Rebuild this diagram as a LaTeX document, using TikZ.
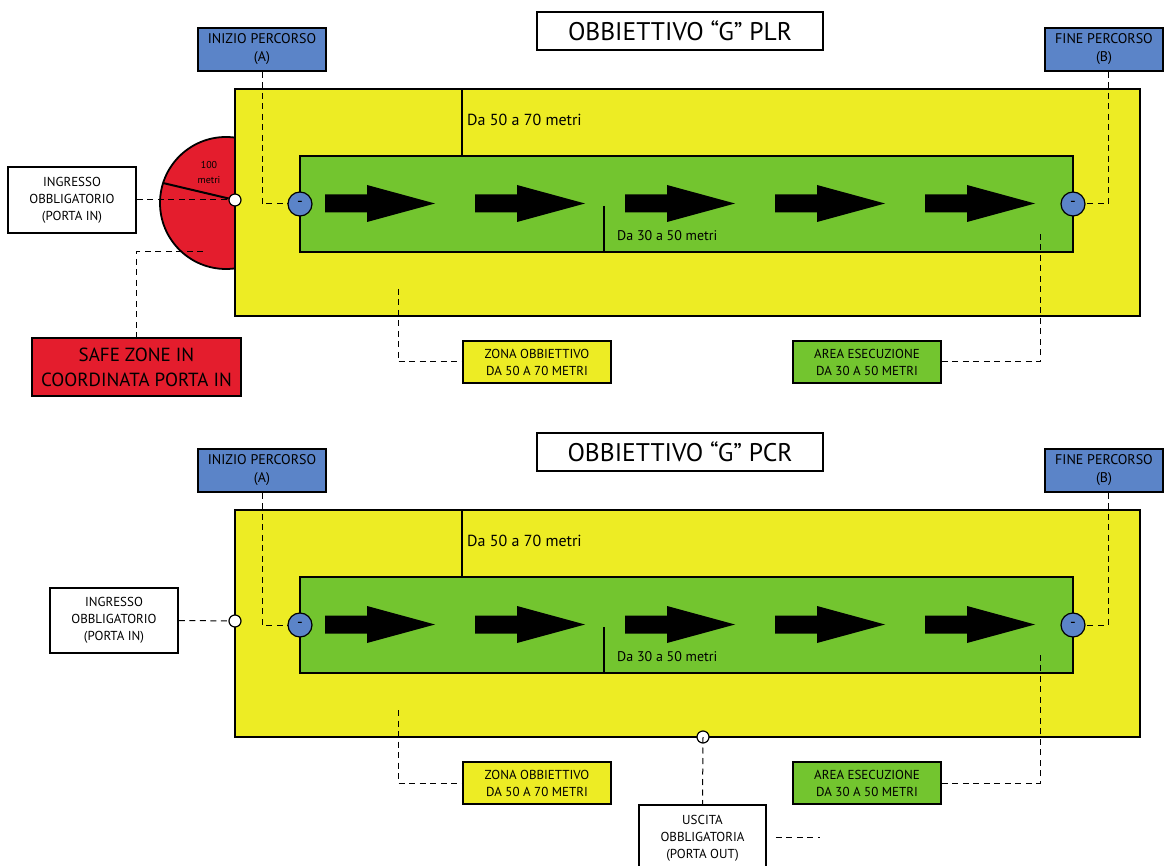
\documentclass[tikz,border=0pt]{standalone}
\usepackage{fontspec}
\setmainfont{PT Sans}
\definecolor{zyel}{RGB}{237,236,36}
\definecolor{zgreen}{RGB}{115,197,47}
\definecolor{zblue}{RGB}{91,132,200}
\definecolor{zred}{RGB}{228,29,45}
\tikzset{
  titlebox/.style={draw, fill=white, line width=1.8pt, minimum width=286pt, minimum height=38pt, inner sep=0pt, font=\fontsize{25.5}{30}\selectfont},
  lbl/.style={draw, line width=1.6pt, align=center, inner sep=0pt, font=\fontsize{13}{17}\selectfont},
  bluebox/.style={lbl, fill=zblue, font=\fontsize{14}{18}\selectfont},
  zone/.style={draw, fill=zyel, line width=1.8pt, inner sep=0pt},
  exarea/.style={draw, fill=zgreen, line width=1.8pt, inner sep=0pt},
  bluedoor/.style={circle, draw, fill=zblue, line width=1.2pt, minimum size=24pt, inner sep=0pt, font=\fontsize{16}{16}\selectfont},
  wdoor/.style={circle, draw, fill=white, line width=1.2pt, minimum size=12pt, inner sep=0pt},
  conn/.style={line width=1pt, dash pattern=on 6pt off 4.5pt},
  meas/.style={line width=1.8pt},
  dist/.style={anchor=west, inner sep=0pt},
}
\newcommand{\obbdiagram}[3]{%
\begin{scope}[shift={(0,#2)}]
  \node[titlebox] (#1title) at (680,31) {#3};
  \node[zone, minimum width=905pt, minimum height=227pt] (#1zone) at (687.5,202.5) {};
  \node[exarea, minimum width=773pt, minimum height=96pt] (#1exec) at (686.5,204) {};
  \draw[meas] (462,89) -- (462,156);
  \node[dist, font=\fontsize{16}{18}\selectfont] (#1d1) at (467,120) {Da 50 a 70 metri};
  \draw[meas] (604,206) -- (604,252);
  \node[dist, font=\fontsize{14}{16}\selectfont] (#1d2) at (617,236) {Da 30 a 50 metri};
  \foreach \s in {325,475,625,775,925}
    \fill (\s,194.5) -- (\s+42,194.5) -- (\s+42,185) -- (\s+110,203.5) -- (\s+42,222) -- (\s+42,212.5) -- (\s,212.5) -- cycle;
  \node[bluedoor] (#1a) at (300,204) {-};
  \node[bluedoor] (#1b) at (1073,204) {-};
  \node[bluebox, minimum width=128pt, minimum height=43pt] (#1inizio) at (262,49.5) {INIZIO PERCORSO\\(A)};
  \node[bluebox, minimum width=118pt, minimum height=43pt] (#1fine) at (1104,49.5) {FINE PERCORSO\\(B)};
  \draw[conn] (#1inizio.south) |- (#1a);
  \draw[conn] ([xshift=4pt]#1fine.south) |- (#1b);
  \node[lbl, fill=zyel, minimum width=148pt, minimum height=42pt] (#1zona) at (537,362) {ZONA OBBIETTIVO\\DA 50 A 70 METRI};
  \node[lbl, fill=zgreen, minimum width=148pt, minimum height=42pt] (#1area) at (867,362) {AREA ESECUZIONE\\DA 30 A 50 METRI};
  \coordinate (#1zp) at (398,289);
  \coordinate (#1ap) at (1040,230);
  \draw[conn] (#1zp) |- (#1zona.west);
  \draw[conn] (#1area.east) -| (#1ap);
\end{scope}}
\begin{document}
\begin{tikzpicture}[x=1pt,y=-1pt]
\clip (0,0) rectangle (1165,866);
\fill[white] (0,0) rectangle (1165,866);
% ---- top diagram ----
\fill[zred, draw=black, line width=1.8pt] (226,203) circle (66pt);
\obbdiagram{t}{0}{OBBIETTIVO “G” PLR}
\coordinate (redpt) at (163,183);
\node[wdoor] (pin) at (235,200) {};
\draw[line width=2pt] (redpt) -- (pin);
\node[font=\fontsize{10}{10}\selectfont, inner sep=0pt] (hundred) at (209,165) {100};
\node[font=\fontsize{10}{10}\selectfont, inner sep=0pt] (metri) at (209,180) {metri};
\node[lbl, fill=white, minimum width=128pt, minimum height=66pt] (ingresso) at (72,200) {INGRESSO\\OBBLIGATORIO\\(PORTA IN)};
\draw[conn] (ingresso.east) -- (pin);
\node[lbl, fill=zred, minimum width=209pt, minimum height=58pt, font=\fontsize{19}{25}\selectfont] (safe) at (136.5,367) {SAFE ZONE IN\\COORDINATA PORTA IN};
\coordinate (sz) at (203,252);
\draw[conn] (sz) -| (safe.north);
% ---- bottom diagram ----
\obbdiagram{b}{421}{OBBIETTIVO “G” PCR}
\node[wdoor] (pin2) at (235,621) {};
\node[lbl, fill=white, minimum width=128pt, minimum height=65pt] (ingresso2) at (114,620.5) {INGRESSO\\OBBLIGATORIO\\(PORTA IN)};
\draw[conn] (ingresso2.east) -- (pin2);
\node[wdoor] (pout) at (703,737) {};
\node[lbl, fill=white, minimum width=127pt, minimum height=66pt] (uscita) at (702.5,838) {USCITA\\OBBLIGATORIA\\(PORTA OUT)};
\draw[conn] (pout.center) -- (uscita.north);
\coordinate (usend) at (820,837);
\draw[conn, shorten <=9pt] (uscita.east |- usend) -- (usend);
\end{tikzpicture}
\end{document}
